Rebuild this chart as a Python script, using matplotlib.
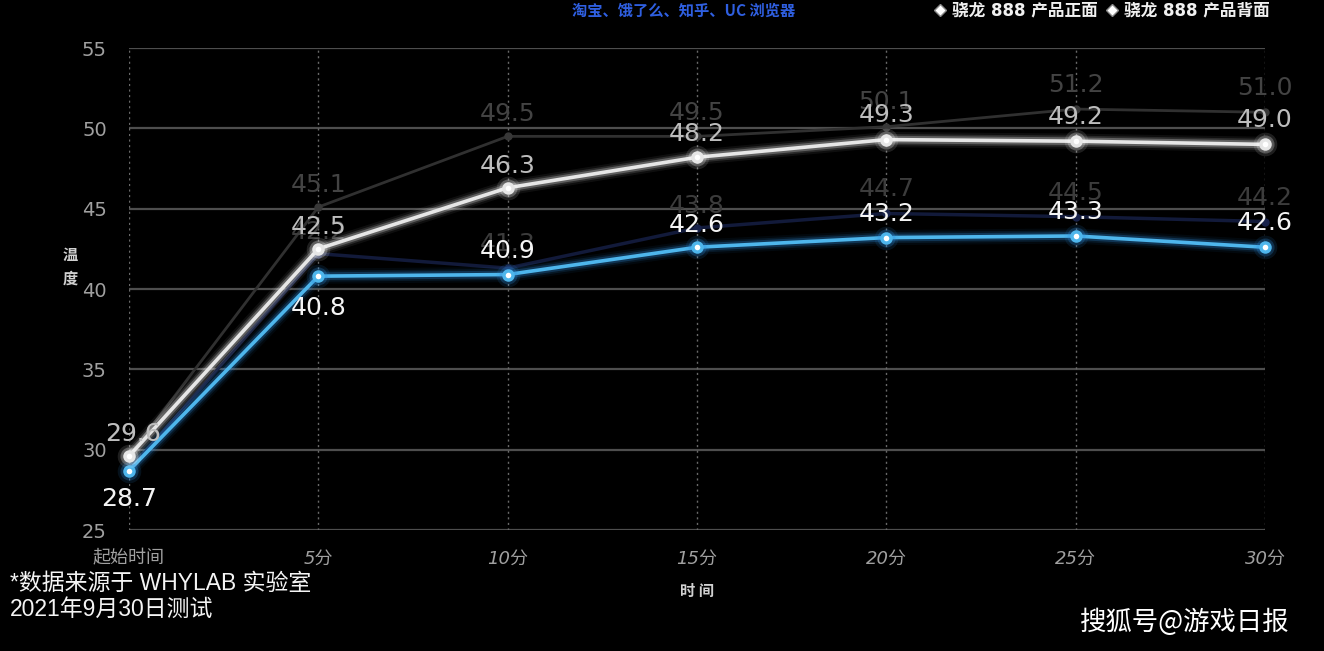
import matplotlib
matplotlib.use("Agg")
import matplotlib.pyplot as plt
from matplotlib.lines import Line2D

# ---------------- data ----------------
categories = ['起始时间', '5分', '10分', '15分', '20分', '25分', '30分']
front = [29.6, 42.5, 46.3, 48.2, 49.3, 49.2, 49.0]       # 骁龙 888 产品正面
back = [28.7, 40.8, 40.9, 42.6, 43.2, 43.3, 42.6]        # 骁龙 888 产品背面
front_ref = [29.6, 45.1, 49.5, 49.5, 50.1, 51.2, 51.0]   # faded comparison (front)
back_ref = [28.7, 42.2, 41.3, 43.8, 44.7, 44.5, 44.2]    # faded comparison (back)
y_ticks = [25, 30, 35, 40, 45, 50, 55]
legend_labels = ['骁龙 888 产品正面', '骁龙 888 产品背面']
apps_text = '淘宝、饿了么、知乎、UC 浏览器'

NUM_FONT = ['DejaVu Sans']
CJK_FONT = ['Noto Sans CJK SC', 'DejaVu Sans']
MIX_FONT = ['DejaVu Sans', 'Noto Sans CJK SC']

plt.rcParams['font.family'] = CJK_FONT

fig = plt.figure(figsize=(13.24, 6.51), dpi=100, facecolor='black')
ax = fig.add_axes([129 / 1324, 1 - 530 / 651, (1265 - 129) / 1324, (530 - 48) / 651])
ax.set_facecolor('black')

x = list(range(len(categories)))
ax.set_xlim(0, len(categories) - 1)
ax.set_ylim(25, 55)

# grid
for yv in y_ticks:
    ax.axhline(yv, color='#4e4e4e', lw=1.6, zorder=1)
for xv in x:
    ax.axvline(xv, color='#6a6a6a', lw=1.0, ls=(0, (1.5, 2.5)), zorder=1)

for s in ax.spines.values():
    s.set_visible(False)

# faded reference lines
ax.plot(x, front_ref, color='#303030', lw=2.0, zorder=2, clip_on=False)
ax.plot(x, front_ref, 'o', color='#383838', ms=5, zorder=2, clip_on=False)
ax.plot(x, back_ref, color='#121a3a', lw=2.5, zorder=2, clip_on=False)
ax.plot(x, back_ref, 'o', color='#18224a', ms=5, zorder=2, clip_on=False)


def glow_line(xs, ys, core, glow, z):
    for lw, a in [(11, 0.06), (8, 0.12), (5.5, 0.25)]:
        ax.plot(xs, ys, color=glow, lw=lw, alpha=a, zorder=z, clip_on=False,
                solid_capstyle='round')
    ax.plot(xs, ys, color=core, lw=2.6, zorder=z + 0.1, clip_on=False)
    for ms, a in [(17, 0.12), (13, 0.25)]:
        ax.plot(xs, ys, 'o', color=glow, ms=ms, alpha=a, mew=0, zorder=z + 0.2, clip_on=False)
    ax.plot(xs, ys, 'o', color=core, ms=9, mew=0, zorder=z + 0.3, clip_on=False)
    ax.plot(xs, ys, 'o', color='white', ms=4, mew=0, zorder=z + 0.4, clip_on=False)


glow_line(x, front, '#e6e6e6', '#ffffff', 5)
glow_line(x, back, '#4eb6ec', '#2e8fe0', 4)


def px(v):
    return v * 72 / 100


front_off = [(4, 22), (0, 22), (0, 22), (0, 23), (0, 25), (0, 24), (0, 24)]
back_off = [(0, -28), (0, -32), (0, 24), (0, 22), (0, 24), (0, 24), (0, 24)]
back_ref_off = [(0, -28), (0, 22), (0, 24), (0, 22), (0, 24), (0, 24), (0, 24)]

LBL = 18
for i in x:
    ax.annotate(f'{front_ref[i]:.1f}', (i, front_ref[i]), xytext=(px(front_off[i][0]), px(front_off[i][1])),
                textcoords='offset points', ha='center', va='center', color='#434343',
                fontsize=LBL, family=NUM_FONT, zorder=3, annotation_clip=False)
    ax.annotate(f'{back_ref[i]:.1f}', (i, back_ref[i]), xytext=(px(back_ref_off[i][0]), px(back_ref_off[i][1])),
                textcoords='offset points', ha='center', va='center', color='#3c3c3c',
                fontsize=LBL, family=NUM_FONT, zorder=3, annotation_clip=False)

for i in x:
    ax.annotate(f'{front[i]:.1f}', (i, front[i]), xytext=(px(front_off[i][0]), px(front_off[i][1])),
                textcoords='offset points', ha='center', va='center', color='#bdbdbd',
                fontsize=LBL, family=NUM_FONT, zorder=8, annotation_clip=False)
    ax.annotate(f'{back[i]:.1f}', (i, back[i]), xytext=(px(back_off[i][0]), px(back_off[i][1])),
                textcoords='offset points', ha='center', va='center', color='#f4f4f4',
                fontsize=LBL, family=NUM_FONT, zorder=8, annotation_clip=False)

# ticks
ax.set_yticks(y_ticks)
ax.set_yticklabels([str(v) for v in y_ticks], family=NUM_FONT, fontsize=14, color='#a0a0a0')
ax.set_xticks(x)
ax.set_xticklabels(categories, family=MIX_FONT, fontsize=13, color='#a0a0a0', style='italic')
ax.tick_params(axis='y', length=0, pad=16)
ax.tick_params(axis='x', length=0, pad=14)

# axis titles
fig.text(70 / 1324, 1 - 267 / 651, '温\n度', color='#d0d0d0', fontsize=11, ha='center', va='center',
         family=CJK_FONT, fontweight='bold', linespacing=1.6)
fig.text(697 / 1324, 1 - 591 / 651, '时 间', color='#d0d0d0', fontsize=11, ha='center', va='center',
         family=CJK_FONT, fontweight='bold')

# top texts / legend
fig.text(684 / 1324, 1 - 11 / 651, apps_text, color='#2f5fe0', fontsize=11, ha='center', va='center',
         family=CJK_FONT, fontweight='bold', style='italic')
leg_x = [940, 1112]
for lx, lab in zip(leg_x, legend_labels):
    fig.add_artist(Line2D([lx / 1324], [1 - 10 / 651], marker='D', ms=6, color='white',
                          mec='#888888', mew=1, transform=fig.transFigure))
    fig.text((lx + 12) / 1324, 1 - 10 / 651, lab, color='#f0f0f0', fontsize=12, ha='left', va='center',
             family=MIX_FONT, fontweight='bold')

# footnotes
fig.text(10 / 1324, 1 - 583 / 651, '*数据来源于 WHYLAB 实验室', color='#f4f4f4', fontsize=16.5,
         ha='left', va='center', family=['Liberation Sans', 'Noto Sans CJK SC'])
fig.text(10 / 1324, 1 - 609 / 651, '2021年9月30日测试', color='#f4f4f4', fontsize=16.5,
         ha='left', va='center', family=['Liberation Sans', 'Noto Sans CJK SC'])
fig.text(1290 / 1324, 1 - 622 / 651, '搜狐号@游戏日报', color='#ffffff', fontsize=19,
         ha='right', va='center', family=['Noto Sans CJK SC', 'DejaVu Sans'])

fig.savefig('out.png', dpi=100, facecolor='black')
